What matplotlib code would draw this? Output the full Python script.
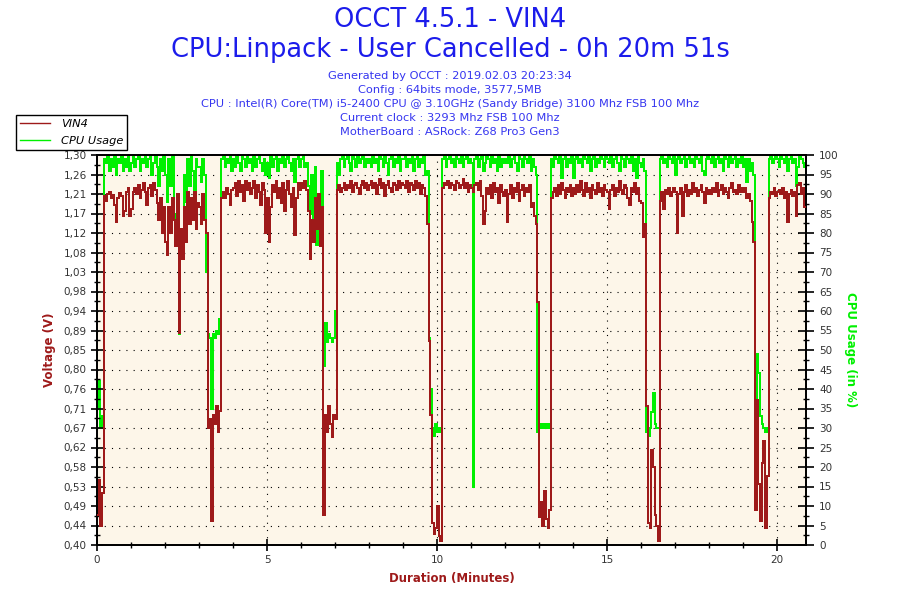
import numpy as np
import matplotlib
matplotlib.use("Agg")
import matplotlib.pyplot as plt
from matplotlib.lines import Line2D
from matplotlib.ticker import FixedLocator, MultipleLocator

# ---------------- data ----------------
STEP_MIN = 0.05          # sampling step of the listed values (minutes)
DURATION_MIN = 20.85     # 0h 20m 51s

# VIN4 voltage in millivolts, one row per minute (20 samples per row)
vin4_mv = [
    470, 550, 445, 520, 1205, 1195, 1210, 1215, 1200, 1208, 1185, 1145, 1200, 1212, 1205, 1160, 1170, 1215, 1225, 1160,
    1175, 1215, 1225, 1210, 1230, 1200, 1220, 1235, 1215, 1185, 1225, 1230, 1205, 1235, 1220, 1190, 1150, 1200, 1120, 1180,
    1100, 1070, 1180, 1120, 1200, 1150, 1090, 1210, 890, 1130, 1060, 1180, 1100, 1215, 1140, 1200, 1150, 1215, 1130, 1190,
    1180, 1140, 1210, 1150, 1120, 670, 690, 455, 700, 680, 720, 660, 710, 1200, 1215, 1200, 1225, 1210, 1185, 1220,
    1225, 1235, 1205, 1240, 1215, 1230, 1195, 1240, 1220, 1235, 1210, 1225, 1240, 1200, 1230, 1215, 1185, 1235, 1220, 1120,
    1200, 1100, 1180, 1230, 1215, 1240, 1200, 1225, 1190, 1235, 1170, 1220, 1240, 1210, 1180, 1225, 1115, 1200, 1235, 1220,
    1235, 1225, 1240, 1220, 1170, 1060, 1150, 1100, 1200, 1130, 1210, 1090, 1180, 470, 700, 660, 720, 680, 650, 700,
    690, 1220, 1230, 1215, 1225, 1235, 1220, 1230, 1225, 1240, 1215, 1230, 1235, 1225, 1210, 1230, 1240, 1225, 1235, 1220,
    1230, 1240, 1225, 1235, 1210, 1230, 1245, 1225, 1235, 1205, 1230, 1240, 1225, 1215, 1235, 1230, 1220, 1240, 1225, 1235,
    1230, 1225, 1240, 1215, 1235, 1230, 1220, 1240, 1225, 1235, 1210, 1230, 1225, 1205, 1140, 870, 700, 450, 425, 440,
    490, 420, 410, 1225, 1235, 1230, 1240, 1225, 1235, 1230, 1220, 1240, 1235, 1225, 1230, 1245, 1225, 1235, 1215, 1230,
    1225, 1215, 1230, 1235, 1220, 1240, 1205, 1140, 1170, 1225, 1210, 1230, 1200, 1235, 1215, 1225, 1190, 1230, 1215, 1205,
    1220, 1145, 1210, 1230, 1200, 1225, 1215, 1235, 1195, 1220, 1230, 1205, 1225, 1215, 1230, 1180, 1190, 1160, 1140, 960,
    465, 500, 445, 525, 460, 440, 480, 1200, 1215, 1225, 1205, 1230, 1210, 1235, 1220, 1200, 1225, 1215, 1230, 1205,
    1225, 1210, 1230, 1215, 1240, 1220, 1205, 1235, 1215, 1225, 1200, 1230, 1220, 1210, 1235, 1215, 1225, 1205, 1230, 1220,
    1215, 1175, 1220, 1230, 1205, 1225, 1215, 1240, 1220, 1210, 1230, 1225, 1200, 1185, 1225, 1215, 1235, 1210, 1225, 1195,
    1190, 1110, 1140, 720, 450, 440, 620, 580, 470, 445, 410, 1195, 1215, 1175, 1220, 1210, 1225, 1205, 1215, 1225,
    1215, 1120, 1210, 1225, 1160, 1215, 1230, 1205, 1220, 1210, 1235, 1215, 1225, 1205, 1220, 1230, 1215, 1190, 1225, 1210,
    1220, 1210, 1225, 1215, 1235, 1205, 1220, 1230, 1210, 1225, 1215, 1200, 1225, 1235, 1215, 1220, 1210, 1230, 1215, 1225,
    1215, 1225, 1200, 1210, 1195, 1145, 1100, 480, 735, 540, 455, 590, 640, 440, 560, 1200, 1215, 1210, 1225, 1205,
    1215, 1220, 1210, 1225, 1200, 1215, 1145, 1210, 1220, 1205, 1215, 1160, 1230, 1235, 1210, 1225, 1180,
]

# CPU usage in percent, same sampling
cpu_usage_pct = [
    35, 42, 30, 33, 99, 98, 100, 96, 99, 97, 100, 95, 99, 98, 100, 96, 99, 97, 100, 96,
    98, 100, 97, 99, 100, 96, 99, 98, 100, 97, 99, 100, 95, 98, 100, 97, 92, 99, 96, 100,
    95, 88, 99, 92, 100, 85, 78, 90, 54, 80, 76, 95, 88, 99, 92, 100, 96, 90, 99, 97,
    97, 93, 99, 95, 70, 54, 53, 35, 54, 53, 55, 54, 58, 99, 100, 97, 99, 98, 100, 96,
    99, 97, 100, 98, 96, 100, 99, 97, 100, 98, 99, 96, 100, 97, 99, 100, 98, 96, 99, 95,
    98, 94, 100, 97, 99, 100, 96, 99, 98, 100, 97, 99, 100, 98, 96, 99, 93, 99, 100, 97,
    99, 100, 97, 98, 92, 85, 95, 80, 97, 77, 90, 83, 96, 46, 57, 52, 54, 53, 52, 53,
    60, 98, 95, 99, 100, 97, 99, 100, 98, 96, 100, 99, 97, 100, 98, 99, 100, 97, 99, 98,
    99, 97, 100, 98, 99, 96, 100, 99, 97, 100, 98, 95, 99, 100, 97, 99, 98, 100, 96, 99,
    99, 100, 97, 99, 98, 100, 96, 99, 100, 97, 99, 98, 100, 95, 96, 53, 40, 30, 28, 31,
    29, 30, 29, 99, 100, 97, 99, 100, 98, 99, 97, 100, 99, 98, 100, 97, 99, 100, 98, 99,
    98, 15, 99, 100, 97, 99, 100, 96, 98, 100, 99, 97, 100, 98, 99, 96, 100, 97, 99, 98,
    99, 98, 100, 97, 99, 100, 98, 96, 100, 99, 97, 100, 99, 98, 100, 96, 99, 97, 95, 29,
    30, 31, 30, 31, 30, 31, 30, 99, 97, 100, 99, 98, 100, 94, 99, 100, 97, 99, 98, 100,
    94, 99, 100, 98, 99, 97, 100, 99, 98, 100, 96, 99, 100, 97, 99, 98, 100, 99, 97, 100,
    99, 98, 100, 97, 99, 100, 98, 96, 100, 99, 97, 100, 99, 98, 100, 96, 99, 94, 100, 98,
    97, 99, 96, 29, 28, 30, 34, 39, 31, 30, 30, 99, 100, 98, 99, 97, 100, 99, 98, 100,
    95, 99, 100, 98, 99, 100, 97, 99, 100, 98, 99, 97, 100, 99, 98, 100, 96, 95, 99, 100,
    99, 98, 100, 97, 99, 100, 98, 99, 96, 100, 99, 97, 100, 98, 99, 100, 97, 99, 98, 100,
    97, 99, 93, 99, 96, 98, 95, 37, 49, 44, 33, 31, 30, 29, 30, 99, 100, 98, 99, 100,
    99, 97, 100, 99, 98, 100, 96, 99, 100, 98, 99, 92, 97, 100, 99, 98, 97,
]

volt_ticks = np.linspace(0.40, 1.30, 21)
volt_tick_labels = ["0,40", "0,44", "0,49", "0,53", "0,58", "0,62", "0,67", "0,71", "0,76", "0,80",
                    "0,85", "0,89", "0,94", "0,98", "1,03", "1,08", "1,12", "1,17", "1,21", "1,26", "1,30"]
cpu_ticks = list(range(0, 101, 5))
minute_ticks = [0, 5, 10, 15, 20]

title_lines = ["OCCT 4.5.1 - VIN4", "CPU:Linpack - User Cancelled - 0h 20m 51s"]
info_lines = [
    "Generated by OCCT : 2019.02.03 20:23:34",
    "Config : 64bits mode, 3577,5MB",
    "CPU : Intel(R) Core(TM) i5-2400 CPU @ 3.10GHz (Sandy Bridge) 3100 Mhz FSB 100 Mhz",
    "Current clock : 3293 Mhz FSB 100 Mhz",
    "MotherBoard : ASRock: Z68 Pro3 Gen3",
]

# ---------------- styling ----------------
RED = "#9E1A1A"
GREEN = "#00F000"
BLUE_T = "#1C1CEB"
BLUE_S = "#3535F0"
BG = "#FDF6E9"
TICKC = "#333333"

plt.rcParams["font.family"] = ["DejaVu Sans"]

fig = plt.figure(figsize=(9, 6), dpi=100, facecolor="white")
ax = fig.add_axes([97 / 900, 1 - 545 / 600, (806 - 97) / 900, (545 - 155) / 600])
ax2 = ax.twinx()

volts = np.array(vin4_mv) / 1000.0
cpu = np.array(cpu_usage_pct, dtype=float)
edges_v = np.minimum(np.arange(len(volts) + 1) * STEP_MIN, DURATION_MIN)
edges_c = np.minimum(np.arange(len(cpu) + 1) * STEP_MIN, DURATION_MIN)

ax.set_xlim(0, DURATION_MIN)
ax.set_ylim(0.40, 1.30)
ax2.set_ylim(0, 100)

# ax2 (CPU) is drawn below ax (voltage); background lives on ax2
ax.set_zorder(ax2.get_zorder() + 1)
ax.patch.set_visible(False)
ax2.patch.set_visible(True)
ax2.patch.set_facecolor(BG)

# grid (on ax2, in CPU units that coincide with the voltage ticks)
grid_kw = dict(color="black", linewidth=0.8, linestyle=(0, (1, 5.5)), zorder=0.5)
for c in cpu_ticks[1:-1]:
    ax2.axhline(c, **grid_kw)
for m in minute_ticks[1:]:
    ax2.axvline(m, **grid_kw)

ax2.stairs(cpu, edges_c, baseline=None, color=GREEN, linewidth=1.3, zorder=2, antialiased=False)
ax.stairs(volts, edges_v, baseline=None, color=RED, linewidth=1.3, zorder=3, antialiased=False)

ax.yaxis.set_major_locator(FixedLocator(volt_ticks))
ax.set_yticklabels(volt_tick_labels)
ax.yaxis.set_minor_locator(FixedLocator(volt_ticks[:-1] + 0.0225))
ax2.yaxis.set_major_locator(FixedLocator(cpu_ticks))
ax2.yaxis.set_minor_locator(MultipleLocator(2.5))
ax.xaxis.set_major_locator(FixedLocator(minute_ticks))
ax.xaxis.set_minor_locator(MultipleLocator(1))

for a in (ax, ax2):
    for s in a.spines.values():
        s.set_color("black")
        s.set_linewidth(1.3)
ax.tick_params(axis="both", which="major", direction="inout", length=9, width=1.2,
               colors="black", labelcolor=TICKC, labelsize=7.5, pad=3)
ax.tick_params(axis="both", which="minor", direction="inout", length=5, width=1.0, colors="black")
ax2.tick_params(axis="y", which="major", direction="inout", length=11, width=1.2,
                colors="black", labelcolor=TICKC, labelsize=7.5, pad=4)
ax2.tick_params(axis="y", which="minor", direction="inout", length=5, width=1.0, colors="black")

ax.set_ylabel("Voltage (V)", color=RED, fontsize=8.5, fontweight="bold", labelpad=5)
ax2.set_ylabel("CPU Usage (in %)", color=GREEN, fontsize=8.5, fontweight="bold",
               rotation=270, labelpad=13)
ax.set_xlabel("Duration (Minutes)", color=RED, fontsize=8.5, fontweight="bold", labelpad=5)

# titles
fig.text(0.5, 1 - 20 / 600, title_lines[0], ha="center", va="center", color=BLUE_T, fontsize=18.5)
fig.text(0.5, 1 - 50 / 600, title_lines[1], ha="center", va="center", color=BLUE_T, fontsize=18.5)
for i, line in enumerate(info_lines):
    fig.text(0.5, 1 - (76 + 14 * i) / 600, line, ha="center", va="center", color=BLUE_S, fontsize=8.2)

# legend
handles = [Line2D([], [], color=RED, linewidth=1.0), Line2D([], [], color=GREEN, linewidth=1.0)]
leg = fig.legend(handles, ["VIN4", "CPU Usage"], loc="upper left",
                 bbox_to_anchor=(16 / 900, 1 - 115 / 600), borderaxespad=0,
                 fancybox=False, framealpha=1, edgecolor="black", facecolor="white",
                 prop={"style": "italic", "size": 8.2}, handlelength=2.6, handletextpad=1.0,
                 borderpad=0.35, labelspacing=0.6)
leg.get_frame().set_linewidth(1.0)

fig.savefig("out.png", dpi=100, facecolor="white")
